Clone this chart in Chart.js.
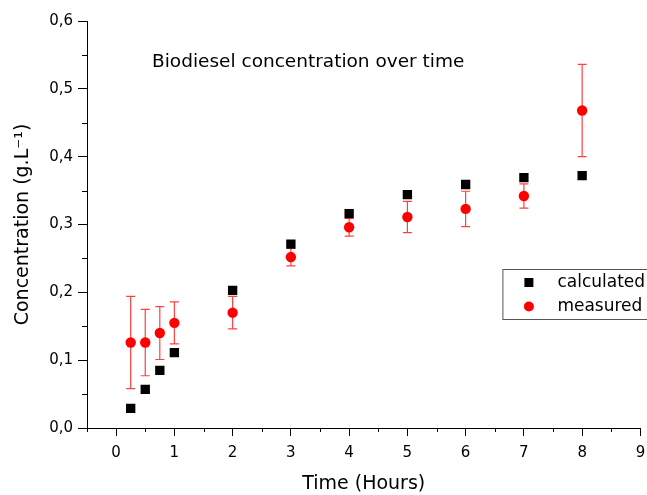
<!DOCTYPE html>
<html>
<head>
<meta charset="utf-8">
<script src="https://cdn.jsdelivr.net/npm/chart.js@4.4.0/dist/chart.umd.min.js"></script>
<style>
    body { margin: 0; background: #fff; }
</style>
</head>
<body>
<canvas id="concChart" width="647" height="495"></canvas>
<script>
var time = [0.25, 0.5, 0.75, 1, 2, 3, 4, 5, 6, 7, 8];
var calculated = [0.029, 0.057, 0.085, 0.111, 0.203, 0.271, 0.316, 0.344, 0.359, 0.369, 0.372];
var measured = [0.126, 0.126, 0.140, 0.155, 0.170, 0.252, 0.296, 0.311, 0.323, 0.342, 0.468];
var measuredErr = [0.068, 0.049, 0.039, 0.031, 0.024, 0.013, 0.013, 0.023, 0.026, 0.018, 0.068];
var xTicks = [0, 1, 2, 3, 4, 5, 6, 7, 8, 9];
var yTicks = [0, 0.1, 0.2, 0.3, 0.4, 0.5, 0.6];
var xMinor = [-0.5, 0.5, 1.5, 2.5, 3.5, 4.5, 5.5, 6.5, 7.5, 8.5];
var yMinor = [0.05, 0.15, 0.25, 0.35, 0.45, 0.55];
var chartTitle = 'Biodiesel concentration over time';
var seriesNames = ['calculated', 'measured'];

var FONT = '"DejaVu Sans", sans-serif';

function toPoints(xs, ys) {
    return xs.map(function (v, i) { return { x: v, y: ys[i] }; });
}

// error bars for the measured series, drawn under the markers
var errorBars = {
    id: 'errorBars',
    beforeDatasetsDraw: function (chart) {
        var ctx = chart.ctx, x = chart.scales.x, y = chart.scales.y;
        ctx.save();
        ctx.strokeStyle = 'rgba(255, 0, 0, 0.75)';
        ctx.lineWidth = 1.2;
        ctx.beginPath();
        time.forEach(function (t, i) {
            var px = x.getPixelForValue(t);
            var top = y.getPixelForValue(measured[i] + measuredErr[i]);
            var bot = y.getPixelForValue(measured[i] - measuredErr[i]);
            ctx.moveTo(px, top); ctx.lineTo(px, bot);
            ctx.moveTo(px - 4.5, top); ctx.lineTo(px + 4.5, top);
            ctx.moveTo(px - 4.5, bot); ctx.lineTo(px + 4.5, bot);
        });
        ctx.stroke();
        ctx.restore();
    }
};

// minor ticks, title text inside the plot and the boxed legend
var extras = {
    id: 'extras',
    afterDraw: function (chart) {
        var ctx = chart.ctx, x = chart.scales.x, y = chart.scales.y;
        var area = chart.chartArea;
        ctx.save();
        ctx.strokeStyle = '#000';
        ctx.lineWidth = 1;
        ctx.beginPath();
        xMinor.forEach(function (v) {
            var px = Math.round(x.getPixelForValue(v)) + 0.5;
            ctx.moveTo(px, area.bottom); ctx.lineTo(px, area.bottom + 4);
        });
        yMinor.forEach(function (v) {
            var py = Math.round(y.getPixelForValue(v)) + 0.5;
            ctx.moveTo(area.left, py); ctx.lineTo(area.left - 5, py);
        });
        ctx.stroke();

        ctx.fillStyle = '#000';
        ctx.font = '18.5px ' + FONT;
        ctx.textBaseline = 'alphabetic';
        ctx.textAlign = 'left';
        ctx.fillText(chartTitle, area.left + 65, area.top + 46);

        // legend
        var lx = area.right - 138, ly = area.top + 248;
        ctx.strokeStyle = '#555';
        ctx.strokeRect(lx + 0.5, ly + 0.5, 160, 50);
        ctx.fillStyle = '#000';
        ctx.fillRect(lx + 22, ly + 9, 9, 9);
        ctx.fillStyle = '#ff0000';
        ctx.beginPath();
        ctx.arc(lx + 26.5, ly + 37.5, 5, 0, Math.PI * 2);
        ctx.fill();
        ctx.fillStyle = '#000';
        ctx.font = '17px ' + FONT;
        ctx.textBaseline = 'middle';
        ctx.fillText(seriesNames[0], lx + 55, ly + 14);
        ctx.fillText(seriesNames[1], lx + 55, ly + 38);
        ctx.restore();
    }
};

var ctx = document.getElementById('concChart').getContext('2d');
var concChart = new Chart(ctx, {
    type: 'scatter',
    data: {
        datasets: [{
            label: seriesNames[0],
            data: toPoints(time, calculated),
            pointStyle: 'rect',
            pointRadius: 6.6,
            pointBackgroundColor: '#000',
            pointBorderWidth: 0
        }, {
            label: seriesNames[1],
            data: toPoints(time, measured),
            pointStyle: 'circle',
            pointRadius: 5.2,
            pointBackgroundColor: '#ff0000',
            pointBorderWidth: 0
        }]
    },
    options: {
        responsive: false,
        devicePixelRatio: 1,
        animation: false,
        layout: {
            padding: { top: 21, right: 5, left: 0, bottom: 0 }
        },
        scales: {
            x: {
                type: 'linear',
                min: -0.5,
                max: 9,
                afterBuildTicks: function (scale) {
                    scale.ticks = xTicks.map(function (v) { return { value: v }; });
                },
                afterFit: function (scale) {
                    scale.height = 67;
                    scale.paddingLeft = 0;
                    scale.paddingRight = 0;
                },
                border: { color: '#000', width: 1 },
                grid: { drawOnChartArea: false, tickLength: 8, tickColor: '#000', tickWidth: 1 },
                ticks: {
                    color: '#000',
                    padding: 8,
                    maxRotation: 0,
                    font: { family: FONT, size: 15 }
                },
                title: {
                    display: true,
                    text: 'Time (Hours)',
                    color: '#000',
                    padding: { top: 0, bottom: 0 },
                    font: { family: FONT, size: 19 }
                }
            },
            y: {
                type: 'linear',
                min: 0,
                max: 0.6,
                afterBuildTicks: function (scale) {
                    scale.ticks = yTicks.map(function (v) { return { value: v }; });
                },
                afterFit: function (scale) { scale.width = 87; },
                border: { color: '#000', width: 1 },
                grid: { drawOnChartArea: false, tickLength: 9, tickColor: '#000', tickWidth: 1 },
                ticks: {
                    color: '#000',
                    padding: 5,
                    font: { family: FONT, size: 15 },
                    callback: function (v) { return v.toFixed(1).replace('.', ','); }
                },
                title: {
                    display: true,
                    text: 'Concentration (g.L⁻¹)',
                    color: '#000',
                    padding: { top: 12, bottom: 0 },
                    font: { family: FONT, size: 19 }
                }
            }
        },
        plugins: {
            legend: { display: false },
            tooltip: { enabled: false }
        }
    },
    plugins: [errorBars, extras]
});
</script>
</body>
</html>
